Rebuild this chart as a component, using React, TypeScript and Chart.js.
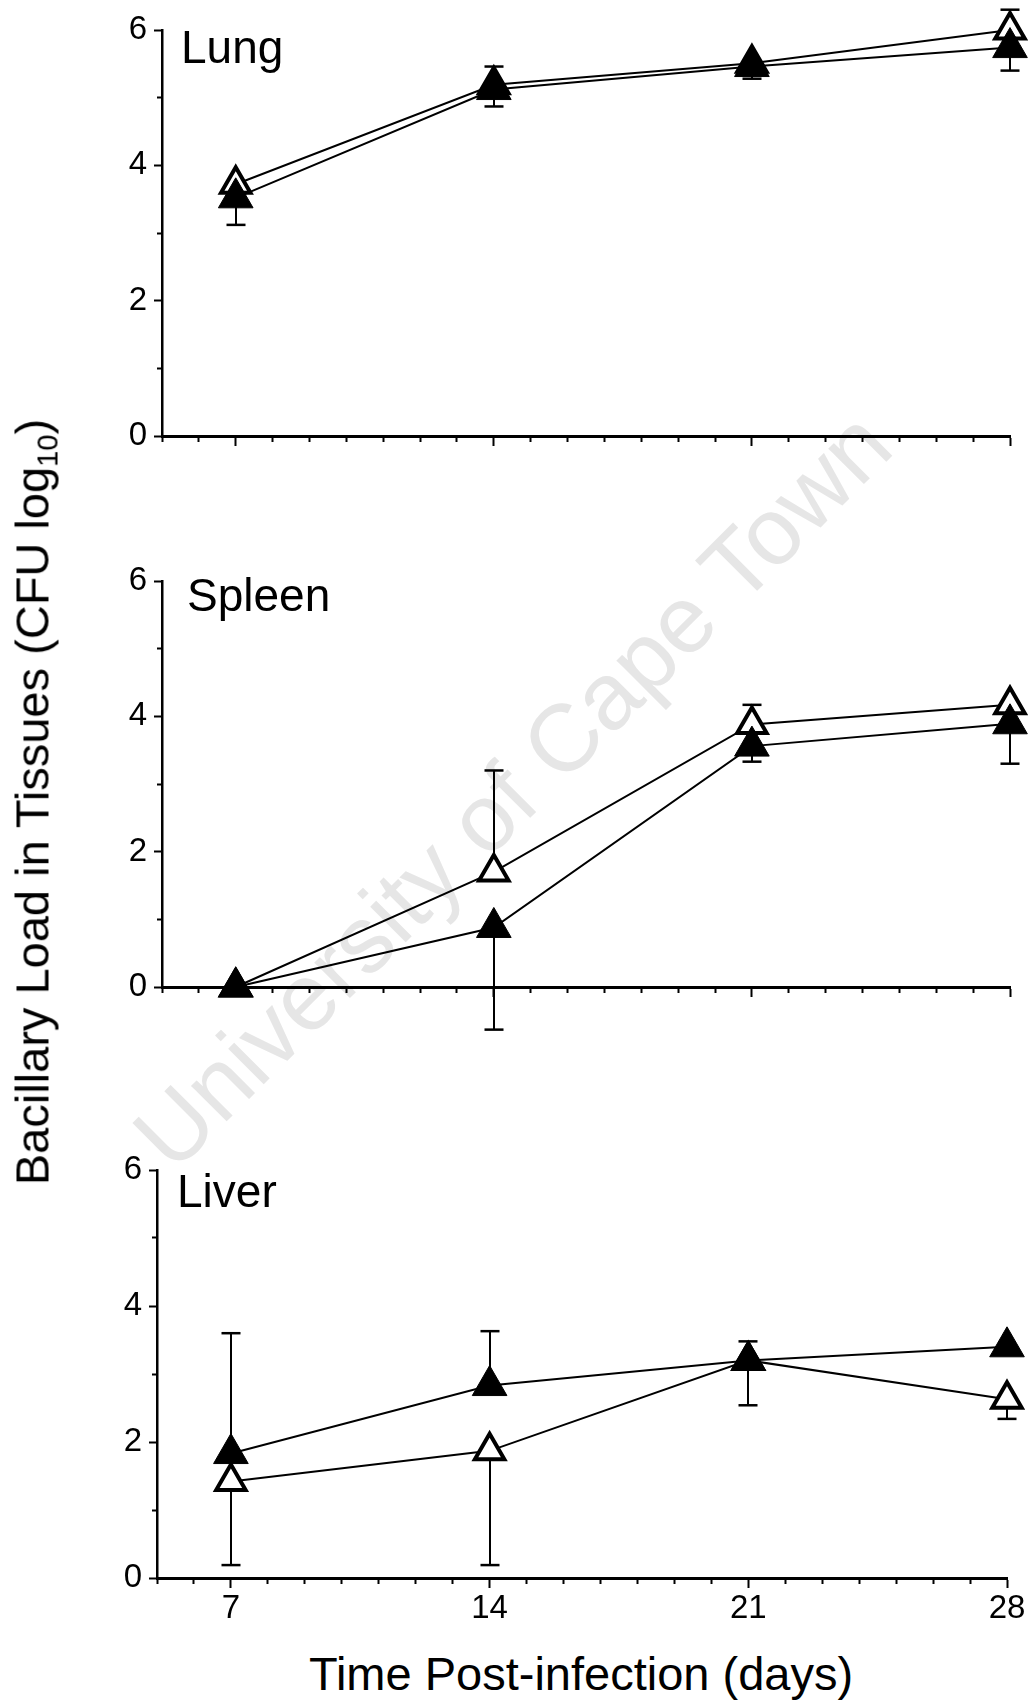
import React, { useEffect, useRef } from 'react';
import { Chart, registerables } from 'chart.js';

Chart.register(...registerables);

const FONT = "'Liberation Sans', Arial, Helvetica, sans-serif";

// x values (days post-infection) and tick labels
const days = [7, 14, 21, 28];
const xTickLabels = [7, 14, 21, 28];
const yTickLabels = [0, 2, 4, 6];

// Lung
const lungOpen = [3.72, 5.19, 5.51, 6.0];
const lungFilled = [3.52, 5.12, 5.46, 5.74];
const lungOpenErrUp = [0, 0.27, 0, 0.3];
const lungOpenErrDown = [0, 0, 0, 0];
const lungFilledErrUp = [0, 0, 0, 0];
const lungFilledErrDown = [0.4, 0.25, 0.18, 0.34];

// Spleen
const spleenOpen = [0, 1.7, 3.88, 4.17];
const spleenFilled = [0, 0.88, 3.56, 3.89];
const spleenOpenErrUp = [0, 1.5, 0.29, 0];
const spleenOpenErrDown = [0, 0, 0, 0];
const spleenFilledErrUp = [0, 0, 0, 0];
const spleenFilledErrDown = [0, 1.51, 0.23, 0.59];

// Liver
const liverOpen = [1.42, 1.87, 3.2, 2.63];
const liverFilled = [1.83, 2.83, 3.2, 3.4];
const liverOpenErrUp = [0, 0, 0, 0];
const liverOpenErrDown = [1.23, 1.68, 0.66, 0.29];
const liverFilledErrUp = [1.77, 0.8, 0.28, 0];
const liverFilledErrDown = [0, 0, 0, 0];

type PanelProps = {
  top: number;
  height: number;
  left: number;
  padTop: number;
  padRight: number;
  xHeight: number;
  showX: boolean;
  open: number[];
  filled: number[];
  openUp: number[];
  openDown: number[];
  filledUp: number[];
  filledDown: number[];
};

function Panel(p: PanelProps) {
  const ref = useRef<HTMLCanvasElement>(null);
  useEffect(() => {
    const canvas = ref.current!;
    const errPlugin = {
      id: 'errBars',
      beforeDatasetsDraw(chart: any) {
        const ctx = chart.ctx;
        const xs = chart.scales.x;
        const ys = chart.scales.y;
        const sets = [
          { v: p.open, up: p.openUp, down: p.openDown },
          { v: p.filled, up: p.filledUp, down: p.filledDown },
        ];
        ctx.save();
        ctx.strokeStyle = '#000';
        ctx.lineCap = 'butt';
        sets.forEach((s) => {
          days.forEach((d, i) => {
            const x = Math.round(xs.getPixelForValue(d));
            const y = ys.getPixelForValue(s.v[i]);
            const parts: Array<[number, number]> = [
              [s.up[i], 1],
              [s.down[i], -1],
            ];
            parts.forEach(([e, dir]) => {
              if (!e) return;
              const ye = ys.getPixelForValue(s.v[i] + dir * e);
              ctx.lineWidth = 2;
              ctx.beginPath();
              ctx.moveTo(x, y);
              ctx.lineTo(x, ye);
              ctx.stroke();
              ctx.lineWidth = 2.5;
              ctx.beginPath();
              ctx.moveTo(x - 9.5, ye);
              ctx.lineTo(x + 9.5, ye);
              ctx.stroke();
            });
          });
        });
        ctx.restore();
      },
    };

    const chart = new Chart(canvas, {
      type: 'line',
      data: {
        datasets: [
          {
            label: 'filled',
            data: days.map((d, i) => ({ x: d, y: p.filled[i] })),
            borderColor: '#000',
            borderWidth: 2,
            pointStyle: 'triangle',
            pointRadius: 20,
            pointHoverRadius: 20,
            pointBackgroundColor: '#000',
            pointBorderColor: '#000',
            pointBorderWidth: 1,
            order: 0,
            clip: false,
            tension: 0,
            fill: false,
          } as any,
          {
            label: 'open',
            data: days.map((d, i) => ({ x: d, y: p.open[i] })),
            borderColor: '#000',
            borderWidth: 2,
            pointStyle: 'triangle',
            pointRadius: 17,
            pointHoverRadius: 17,
            pointBackgroundColor: '#fff',
            pointBorderColor: '#000',
            pointBorderWidth: 4,
            order: 1,
            clip: false,
            tension: 0,
            fill: false,
          } as any,
        ],
      },
      options: {
        responsive: false,
        animation: false,
        devicePixelRatio: 1,
        events: [],
        layout: { padding: { top: p.padTop, right: p.padRight, left: 0, bottom: 0 } },
        plugins: { legend: { display: false }, tooltip: { enabled: false } },
        scales: {
          x: {
            type: 'linear',
            min: 5,
            max: 28,
            afterFit: (s: any) => {
              s.height = p.xHeight;
            },
            border: { display: true, color: '#000', width: 3 },
            grid: {
              display: true,
              drawOnChartArea: false,
              drawTicks: true,
              tickLength: 10,
              tickWidth: 2,
              tickColor: '#000',
              tickBorderDash: (c: any) =>
                c.tick && xTickLabels.includes(c.tick.value) ? [] : [4, 40],
            },
            ticks: {
              stepSize: 1,
              maxTicksLimit: 100,
              autoSkip: false,
              maxRotation: 0,
              minRotation: 0,
              padding: 1,
              color: '#000',
              font: { family: FONT, size: 33 },
              callback: (v: any) => (p.showX && xTickLabels.includes(v) ? String(v) : ''),
            },
          },
          y: {
            type: 'linear',
            min: 0,
            max: 6,
            afterFit: (s: any) => {
              s.width = p.left;
            },
            border: { display: true, color: '#000', width: 2.5 },
            grid: {
              display: true,
              drawOnChartArea: false,
              drawTicks: true,
              tickLength: 8,
              tickWidth: 2,
              tickColor: '#000',
              tickBorderDash: (c: any) =>
                c.tick && yTickLabels.includes(c.tick.value) ? [] : [0, 3, 20],
            },
            ticks: {
              stepSize: 1,
              maxTicksLimit: 100,
              autoSkip: false,
              padding: 7,
              color: '#000',
              font: { family: FONT, size: 33 },
              callback: (v: any) => (yTickLabels.includes(v) ? String(v) : ''),
            },
          },
        },
      } as any,
      plugins: [errPlugin],
    });
    return () => chart.destroy();
  }, []);
  return (
    <canvas
      ref={ref}
      width={1031}
      height={p.height}
      style={{ position: 'absolute', left: 0, top: p.top, width: 1031, height: p.height }}
    />
  );
}

const labelStyle: React.CSSProperties = {
  position: 'absolute',
  fontFamily: FONT,
  fontSize: 46,
  lineHeight: '46px',
  color: '#000',
  whiteSpace: 'nowrap',
};

export default function App() {
  return (
    <div
      style={{
        position: 'absolute',
        left: 0,
        top: 0,
        width: 1031,
        height: 1706,
        background: '#fff',
        overflow: 'hidden',
      }}
    >
      <div
        style={{
          position: 'absolute',
          left: 512,
          top: 790,
          transform: 'translate(-50%, -50%) rotate(-45deg)',
          fontFamily: FONT,
          fontSize: 95,
          lineHeight: 1,
          color: '#e6e6e6',
          whiteSpace: 'nowrap',
        }}
      >
        University of Cape Town
      </div>

      <Panel
        top={0}
        height={470}
        left={162}
        padTop={30}
        padRight={19}
        xHeight={34}
        showX={false}
        open={lungOpen}
        filled={lungFilled}
        openUp={lungOpenErrUp}
        openDown={lungOpenErrDown}
        filledUp={lungFilledErrUp}
        filledDown={lungFilledErrDown}
      />
      <Panel
        top={540}
        height={500}
        left={162}
        padTop={41}
        padRight={19}
        xHeight={53}
        showX={false}
        open={spleenOpen}
        filled={spleenFilled}
        openUp={spleenOpenErrUp}
        openDown={spleenOpenErrDown}
        filledUp={spleenFilledErrUp}
        filledDown={spleenFilledErrDown}
      />
      <Panel
        top={1140}
        height={500}
        left={157}
        padTop={30}
        padRight={24}
        xHeight={62}
        showX={true}
        open={liverOpen}
        filled={liverFilled}
        openUp={liverOpenErrUp}
        openDown={liverOpenErrDown}
        filledUp={liverFilledErrUp}
        filledDown={liverFilledErrDown}
      />

      <div style={{ ...labelStyle, left: 181, top: 24 }}>Lung</div>
      <div style={{ ...labelStyle, left: 187, top: 572 }}>Spleen</div>
      <div style={{ ...labelStyle, left: 177, top: 1168 }}>Liver</div>

      <div
        style={{
          ...labelStyle,
          fontSize: 47,
          lineHeight: '47px',
          left: 581,
          top: 1650,
          transform: 'translateX(-50%)',
        }}
      >
        Time Post-infection (days)
      </div>

      <div
        style={{
          ...labelStyle,
          fontSize: 47,
          lineHeight: '47px',
          left: 32,
          top: 802,
          transform: 'translate(-50%, -50%) rotate(-90deg)',
        }}
      >
        Bacillary Load in Tissues (CFU log
        <span style={{ fontSize: '0.62em', verticalAlign: '-0.3em', lineHeight: 0 }}>10</span>)
      </div>
    </div>
  );
}
